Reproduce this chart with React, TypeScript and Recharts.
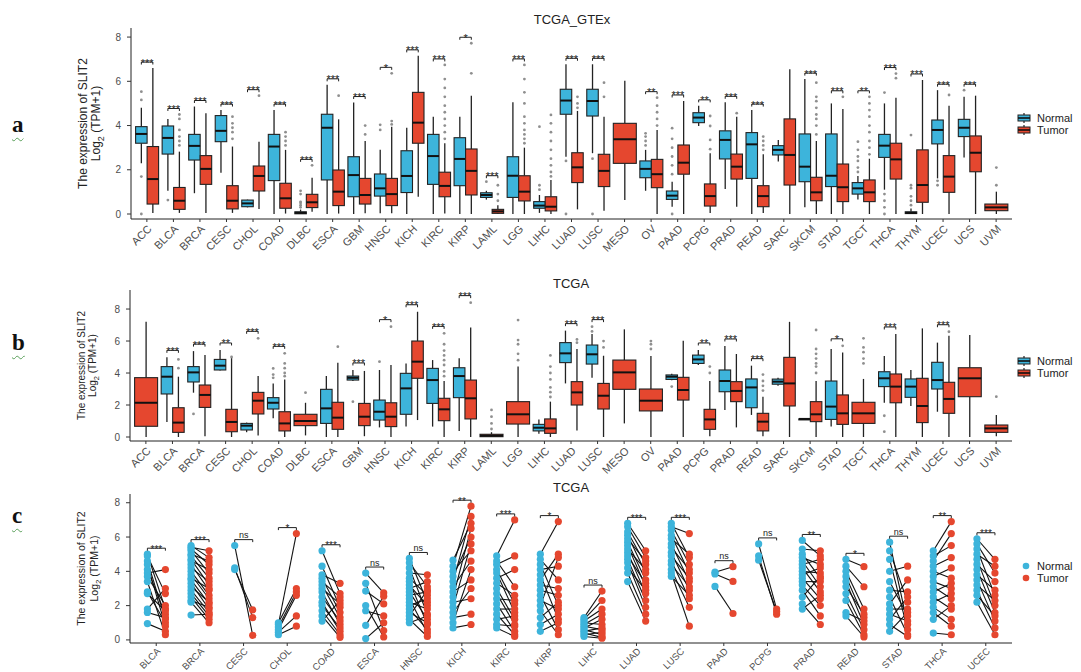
import React from 'react';
import { ComposedChart, Bar, XAxis, YAxis } from 'recharts';

const BLUE = '#3DB4DB';
const RED = '#E5472F';

// ---------- panel a : TCGA_GTEx ----------
const catsA = ['ACC', 'BLCA', 'BRCA', 'CESC', 'CHOL', 'COAD', 'DLBC', 'ESCA', 'GBM', 'HNSC', 'KICH', 'KIRC', 'KIRP', 'LAML', 'LGG', 'LIHC', 'LUAD', 'LUSC', 'MESO', 'OV', 'PAAD', 'PCPG', 'PRAD', 'READ', 'SARC', 'SKCM', 'STAD', 'TGCT', 'THCA', 'THYM', 'UCEC', 'UCS', 'UVM'];

// [min, q1, median, q3, max]
const normalA: (number[] | null)[] = [
  [2.3, 3.2, 3.62, 3.95, 4.8], [1.05, 2.71, 3.44, 3.98, 4.3], [0.94, 2.44, 3.08, 3.6, 4.86], [1.87, 3.27, 3.76, 4.45, 4.7],
  [0.3, 0.33, 0.48, 0.63, 0.65], [0, 1.51, 3.05, 3.6, 4.7], [0, 0.01, 0.05, 0.1, 0.2], [0, 1.54, 3.9, 4.51, 5.84],
  [0, 0.78, 1.76, 2.59, 5.04], [0.03, 0.81, 1.16, 1.81, 2.9], [0, 0.97, 1.72, 2.86, 3.9], [0, 1.34, 2.62, 3.6, 4.4],
  [0, 1.28, 2.49, 3.45, 4.4], [0.65, 0.75, 0.86, 0.96, 1.05], [0, 0.75, 1.73, 2.59, 5.05], [0.05, 0.26, 0.38, 0.56, 0.86],
  [2.59, 4.51, 5.13, 5.64, 6.77], [2.75, 4.43, 5.11, 5.64, 6.77], null, [1.05, 1.64, 2.04, 2.4, 2.9],
  [0.33, 0.66, 0.83, 1.04, 1.46], [3.98, 4.13, 4.36, 4.58, 4.89], [1.13, 2.49, 3.35, 3.76, 5.05], [0, 1.61, 3.15, 3.68, 4.7],
  [2.37, 2.67, 2.9, 3.09, 3.35], [0.3, 1.46, 2.14, 3.62, 6.1], [0, 1.24, 1.73, 3.62, 5.0], [0.66, 0.9, 1.16, 1.42, 1.72],
  [1.1, 2.56, 3.09, 3.6, 5.0], [0, 0.02, 0.05, 0.1, 0.25], [1.61, 3.17, 3.8, 4.25, 5.6], [2.55, 3.5, 3.9, 4.28, 5.3], null,
];
const tumorA: (number[] | null)[] = [
  [0.05, 0.45, 1.58, 3.05, 6.6], [0.05, 0.21, 0.6, 1.2, 2.82], [0.05, 1.34, 2.04, 2.64, 4.56], [0.05, 0.23, 0.6, 1.28, 3.05],
  [0.23, 1.04, 1.72, 2.17, 3.27], [0.02, 0.26, 0.71, 1.39, 2.9], [0.1, 0.29, 0.53, 0.89, 1.64], [0.02, 0.38, 1.01, 1.99, 4.28],
  [0.03, 0.45, 0.86, 1.61, 3.3], [0.03, 0.38, 0.9, 1.61, 3.95], [0.78, 3.2, 4.13, 5.5, 7.15], [0.02, 0.78, 1.27, 1.89, 3.2],
  [0, 0.86, 1.95, 2.94, 5.35], [0, 0.03, 0.12, 0.21, 0.4], [0, 0.59, 1.01, 1.73, 3.0], [0, 0.14, 0.33, 0.78, 1.54],
  [0.21, 1.42, 2.11, 2.77, 4.66], [0.15, 1.24, 1.95, 2.7, 4.4], [0.63, 2.29, 3.38, 4.1, 6.02], [0, 1.19, 1.8, 2.47, 3.8],
  [0, 1.8, 2.32, 3.12, 5.11], [0.05, 0.36, 0.81, 1.36, 2.75], [0.33, 1.58, 2.14, 2.71, 4.4], [0.05, 0.33, 0.81, 1.28, 2.7],
  [0, 1.31, 2.67, 4.3, 6.55], [0, 0.6, 0.98, 1.66, 3.3], [0, 0.56, 1.21, 2.26, 4.75], [0, 0.56, 0.98, 1.54, 2.5],
  [0, 1.58, 2.47, 3.2, 5.26], [0, 0.53, 1.31, 2.9, 6.06], [0, 0.98, 1.69, 2.64, 4.89], [0, 1.91, 2.77, 3.53, 5.35], [0, 0.15, 0.3, 0.45, 1.01],
];
const outNormalA: number[][] = [
  [5.53, 5.16, 1.69, 0], [0.63], [], [], [], [], [0.3, 0.4, 0.5, 0.55, 0.9, 1.05], [], [], [4.03, 3.8], [], [], [],
  [1.46], [], [1.1, 1.3, 3.95], [2.4, 0], [2.5, 0], [], [3.1, 3.3, 3.5, 3.65], [1.8, 2.2, 2.6, 3.0, 3.4, 3.88, 0], [], [], [],
  [], [], [], [1.9, 2.1, 2.4, 2.6, 2.9, 3.27], [0.9, 0.6, 0.3, 0, 5.49], [0.4, 0.6, 0.8, 1.17, 1.3, 3.57], [1.5, 1.3], [5.6], [],
];
const outTumorA: number[][] = [
  [], [3.1, 3.3, 3.5, 3.8, 4.3, 4.5], [], [3.4, 3.7, 3.9, 4.1, 4.4], [5.35], [3.1, 3.3, 3.5, 3.7], [2.2], [5.35], [3.6, 4.0],
  [4.05, 4.2, 6.36], [], [3.4, 3.7, 4.0, 4.3, 4.6, 4.9, 5.3, 5.7, 6.1, 6.74], [6.36, 7.72], [0.6, 0.9, 1.3],
  [3.2, 3.4, 3.6, 3.8, 4.1, 4.4, 5.0, 5.5, 6.1, 6.74], [1.7, 1.9, 2.2, 2.5, 2.9, 3.3, 3.7, 4.1, 4.48], [4.8, 5.0, 5.3], [5.3, 5.94],
  [], [4.0, 4.3, 4.6, 4.9, 5.26], [], [2.93, 3.35, 3.98, 4.43], [4.56], [2.9, 3.1, 3.3, 3.5], [],
  [3.6, 4.0, 4.3, 4.5, 4.8, 5.1, 5.3, 5.94], [5.3], [2.7, 3.0, 3.3, 3.7, 4.0, 4.4, 4.7, 5.0, 5.3], [6.14, 6.35], [], [5.38], [], [1.3, 2.1],
];
const sigA = ['***', '***', '***', '***', '***', '***', '***', '***', '***', '*', '***', '***', '*', '***', '***', '', '***', '***', '', '**', '***', '**', '***', '***', '', '***', '***', '**', '***', '***', '***', '***', ''];

// ---------- panel b : TCGA ----------
const catsB = catsA;
const normalB: (number[] | null)[] = [
  null, [0.94, 2.69, 3.77, 4.4, 4.98], [2.77, 3.44, 4.04, 4.4, 5.37], [4.15, 4.19, 4.46, 4.85, 5.44],
  [0.3, 0.44, 0.71, 0.85, 0.9], [1.17, 1.75, 2.14, 2.46, 3.35], null, [0, 0.85, 1.79, 2.98, 3.81],
  [3.5, 3.56, 3.7, 3.81, 4.19], [0.6, 1.06, 1.58, 2.31, 4.19], [0.65, 1.42, 3.04, 3.98, 4.6], [0.65, 2.1, 3.56, 4.29, 4.81],
  [0.38, 2.46, 3.81, 4.33, 4.92], null, null, [0.2, 0.38, 0.58, 0.79, 1.1],
  [3.35, 4.65, 5.23, 5.9, 6.65], [3.71, 4.56, 5.17, 5.75, 6.44], null, null,
  [3.55, 3.6, 3.77, 3.88, 3.95], [4.5, 4.6, 4.85, 5.12, 5.44], [1.69, 2.83, 3.5, 4.19, 5.69], [1.38, 1.83, 3.1, 3.63, 4.46],
  [3.2, 3.3, 3.46, 3.62, 3.7], [1.13, 1.13, 1.13, 1.13, 1.13], [0.65, 1.1, 1.9, 3.5, 5.5], null,
  [2.14, 3.15, 3.67, 4.08, 5.06], [1.94, 2.48, 3.15, 3.63, 4.19], [1.58, 3.0, 3.56, 4.67, 5.9], null, null,
];
const tumorB: (number[] | null)[] = [
  [0, 0.67, 2.14, 3.71, 7.2], [0, 0.29, 0.9, 1.83, 3.77], [0.05, 1.85, 2.63, 3.25, 5.12], [0, 0.33, 0.94, 1.73, 4.98],
  [0.1, 1.44, 2.27, 2.79, 3.81], [0, 0.38, 0.85, 1.58, 3.6], [0.1, 0.71, 1.0, 1.42, 2.14], [0, 0.48, 1.21, 2.17, 4.64],
  [0.05, 0.71, 1.27, 2.1, 4.13], [0, 0.65, 1.27, 2.14, 4.5], [1.06, 3.67, 4.71, 6.0, 7.83], [0, 1.02, 1.73, 2.42, 3.5],
  [0, 1.13, 2.42, 3.56, 6.85], [0, 0.02, 0.08, 0.17, 0.3], [0, 0.81, 1.42, 2.21, 4.4], [0, 0.23, 0.54, 1.13, 2.21],
  [0.4, 2.0, 2.79, 3.46, 5.5], [0, 1.75, 2.58, 3.35, 5.08], [0.85, 2.98, 4.04, 4.81, 6.73], [0, 1.63, 2.27, 3.0, 5.06],
  [0, 2.31, 2.94, 3.73, 6.02], [0.05, 0.48, 1.1, 1.73, 3.5], [0.6, 2.21, 2.88, 3.46, 5.19], [0.05, 0.38, 0.96, 1.48, 2.52],
  [0, 1.94, 3.35, 4.98, 7.2], [0, 0.96, 1.42, 2.21, 3.5], [0, 0.79, 1.48, 2.63, 5.29], [0, 0.85, 1.48, 2.17, 3.63],
  [0, 2.14, 3.15, 3.94, 6.44], [0, 0.9, 1.94, 3.67, 6.79], [0, 1.48, 2.38, 3.42, 6.33], [0, 2.52, 3.67, 4.33, 6.38], [0.05, 0.29, 0.54, 0.75, 1.38],
];
const outNormalB: number[][] = [
  [], [], [1.44], [], [], [3.7, 3.9, 4.29], [], [], [2.21], [4.71], [], [], [], [], [], [], [], [6.6, 6.9], [], [],
  [3.15], [], [], [], [], [], [], [], [1.33, 0.33], [], [], [], [],
];
const outTumorB: number[][] = [
  [], [4.3, 4.85], [], [5.0], [6.17], [3.8, 4.0, 4.3, 4.6, 5.23], [2.77], [5.65], [], [6.9], [],
  [3.8, 4.1, 4.5, 4.8, 5.1, 5.4, 5.8, 6.48], [8.4], [0.5, 0.85, 1.27, 1.69], [4.8, 5.2, 5.8, 6.06, 7.31],
  [2.5, 2.8, 3.1, 3.6, 4.0, 4.4, 5.1], [5.9, 6.1], [5.6, 6.0], [], [5.5, 5.8, 6.0], [], [4.0, 4.4], [], [2.9, 3.2, 3.5, 3.9], [],
  [4.0, 4.4, 4.6, 4.9, 5.2, 5.5, 6.69], [5.7], [4.6, 4.9, 5.3, 5.6, 6.17], [], [], [6.58], [], [2.52],
];
const sigB = ['', '***', '***', '**', '***', '***', '', '', '***', '*', '***', '***', '***', '', '', '', '***', '***', '', '', '', '**', '***', '***', '', '', '*', '', '***', '', '***', '', ''];

// ---------- panel c : paired TCGA ----------
const catsC = ['BLCA', 'BRCA', 'CESC', 'CHOL', 'COAD', 'ESCA', 'HNSC', 'KICH', 'KIRC', 'KIRP', 'LIHC', 'LUAD', 'LUSC', 'PAAD', 'PCPG', 'PRAD', 'READ', 'STAD', 'THCA', 'UCEC'];
const pairNormalC: number[][] = [
  [5.0, 4.9, 4.6, 4.4, 4.1, 3.9, 3.7, 3.4, 2.8, 2.7, 1.8, 1.6, 0.95],
  [5.5, 5.4, 5.3, 5.2, 5.0, 4.9, 4.7, 4.6, 4.4, 4.2, 4.0, 3.8, 3.6, 3.5, 3.3, 3.1, 2.9, 2.7, 2.5, 2.3, 2.2, 1.45],
  [5.5, 4.2, 4.1],
  [0.9, 1.0, 0.75, 0.6, 0.45, 0.3],
  [5.2, 4.3, 3.8, 3.6, 3.4, 3.2, 3.0, 2.8, 2.5, 2.2, 2.0, 1.7, 1.4, 1.1],
  [3.9, 3.3, 2.85, 2.0, 1.7, 0.85, 0.08],
  [4.75, 4.5, 4.2, 3.9, 3.6, 3.4, 3.2, 3.0, 2.8, 2.6, 2.4, 2.2, 2.0, 1.8, 1.6, 1.4, 1.2, 1.0],
  [4.65, 4.3, 4.0, 3.7, 3.4, 3.1, 2.8, 2.5, 2.2, 1.9, 1.6, 1.3, 1.0, 0.7],
  [4.9, 4.6, 4.4, 4.1, 3.9, 3.6, 3.3, 3.0, 2.7, 2.4, 2.1, 1.8, 1.5, 1.2, 0.9, 0.7],
  [5.0, 4.7, 4.4, 4.1, 3.8, 3.5, 3.2, 2.9, 2.6, 2.3, 2.0, 1.7, 1.3, 0.9, 0.5],
  [1.3, 1.2, 1.1, 1.0, 0.9, 0.8, 0.7, 0.6, 0.5, 0.4, 0.3, 0.2],
  [6.8, 6.6, 6.3, 6.1, 5.9, 5.7, 5.5, 5.3, 5.1, 4.9, 4.7, 4.5, 4.2, 3.9, 3.4],
  [6.8, 6.6, 6.4, 6.1, 5.9, 5.6, 5.4, 5.1, 4.9, 4.6, 4.4, 4.1, 3.9, 3.7],
  [3.95, 3.85, 3.12],
  [5.6, 4.9, 4.65],
  [5.8, 5.3, 5.0, 4.8, 4.6, 4.4, 4.2, 4.0, 3.8, 3.6, 3.4, 3.2, 2.9, 2.5, 2.1, 1.8],
  [4.7, 4.3, 4.0, 3.7, 3.4, 3.1, 2.7, 2.3, 1.6, 1.4],
  [5.7, 5.2, 4.7, 4.0, 3.4, 2.9, 2.5, 2.1, 1.8, 1.5, 1.2, 0.9, 0.5],
  [5.2, 4.9, 4.6, 4.3, 4.0, 3.7, 3.4, 3.1, 2.8, 2.5, 2.2, 1.9, 1.6, 1.2, 0.4],
  [5.9, 5.6, 5.3, 5.0, 4.7, 4.4, 4.1, 3.8, 3.5, 3.2, 2.9, 2.6, 2.2],
];
const pairTumorC: number[][] = [
  [1.8, 2.7, 1.2, 0.8, 1.5, 4.1, 2.0, 0.3, 1.0, 1.7, 3.0, 1.3, 0.5],
  [4.8, 5.2, 4.4, 3.9, 4.6, 3.6, 3.2, 4.1, 2.9, 3.4, 2.6, 2.4, 3.0, 2.1, 1.8, 2.2, 1.6, 1.4, 1.2, 1.9, 1.0, 1.5],
  [0.27, 1.3, 1.75],
  [6.2, 3.0, 2.8, 2.6, 1.4, 0.8],
  [2.7, 1.9, 3.3, 1.6, 2.5, 1.3, 2.1, 0.9, 1.1, 0.5, 0.7, 0.3, 0.15, 2.3],
  [2.75, 0.55, 2.1, 0.17, 1.4, 2.55, 1.0],
  [2.2, 3.1, 1.5, 3.8, 2.6, 0.9, 2.0, 3.4, 1.2, 2.8, 0.4, 1.8, 2.4, 0.6, 1.0, 2.9, 0.2, 1.4],
  [6.8, 7.8, 5.2, 6.0, 7.2, 4.6, 3.5, 6.5, 2.4, 5.6, 3.0, 1.5, 4.1, 0.9],
  [7.0, 3.1, 4.9, 2.1, 1.6, 4.1, 2.6, 1.2, 0.9, 2.3, 0.5, 1.8, 0.3, 1.4, 0.8, 0.2],
  [6.9, 3.5, 2.0, 4.3, 1.2, 5.0, 3.0, 2.6, 0.6, 1.8, 4.8, 0.3, 2.2, 1.5, 1.0],
  [2.85, 2.3, 1.8, 0.9, 1.5, 0.6, 1.2, 0.3, 0.7, 0.15, 0.45, 0.1],
  [5.2, 4.8, 4.4, 3.9, 4.6, 3.5, 3.1, 4.1, 2.7, 3.3, 2.3, 1.9, 2.9, 1.5, 1.1],
  [4.8, 6.2, 4.4, 3.9, 5.0, 3.4, 4.1, 2.9, 3.6, 2.4, 3.1, 1.9, 0.8, 2.6],
  [4.27, 3.41, 1.54],
  [1.8, 1.5, 1.65],
  [4.9, 5.2, 3.6, 4.4, 3.1, 4.7, 2.8, 3.9, 4.2, 2.4, 3.4, 2.0, 1.4, 3.7, 0.9, 2.6],
  [4.27, 3.1, 1.8, 1.3, 0.9, 1.5, 0.6, 0.3, 1.1, 0.17],
  [0.9, 2.2, 0.6, 4.3, 1.4, 2.8, 0.3, 3.5, 1.8, 1.1, 2.5, 0.2, 1.6],
  [6.9, 5.5, 6.2, 4.8, 3.6, 4.2, 3.0, 2.4, 3.3, 1.8, 2.7, 1.2, 0.8, 2.0, 0.3],
  [4.7, 3.9, 2.6, 4.3, 2.0, 3.4, 1.6, 2.9, 1.1, 2.3, 0.7, 1.4, 0.3],
];
const sigC = ['***', '***', 'ns', '*', '***', 'ns', 'ns', '**', '***', '*', 'ns', '***', '***', 'ns', 'ns', '**', '*', 'ns', '**', '***'];

const yTicks = [0, 2, 4, 6, 8];

function boxRows(cats: string[], normal: (number[] | null)[], tumor: (number[] | null)[], outN: number[][], outT: number[][], sig: string[]) {
  return cats.map((name, i) => {
    const vals = [...(normal[i] ?? []), ...(tumor[i] ?? []), ...outN[i], ...outT[i]];
    return { name, normal: normal[i], tumor: tumor[i], outN: outN[i], outT: outT[i], sig: sig[i], span: [Math.min(...vals), Math.max(...vals)] };
  });
}

const rowsA = boxRows(catsA, normalA, tumorA, outNormalA, outTumorA, sigA);
const rowsB = boxRows(catsB, normalB, tumorB, outNormalB, outTumorB, sigB);
const rowsC = catsC.map((name, i) => {
  const vals = [...pairNormalC[i], ...pairTumorC[i]];
  return { name, n: pairNormalC[i], t: pairTumorC[i], sig: sigC[i], span: [Math.min(...vals), Math.max(...vals)] };
});

function Bracket({ xl, xr, top, sig, fs }: any) {
  const isStar = sig.indexOf('*') >= 0;
  return (
    <g>
      <path d={`M${xl},${top + 2.5}V${top}H${xr}V${top + 2.5}`} stroke="#222" strokeWidth={1} fill="none" />
      <text x={(xl + xr) / 2} y={isStar ? top + 4.5 : top - 1.5} textAnchor="middle" fontSize={isStar ? fs : fs - 1} fill="#222">{sig}</text>
    </g>
  );
}

function BoxShape(props: any) {
  const { x, y, width, height, gap, sigSize } = props;
  const d = props.payload ?? props;
  const [lo, hi] = d.span;
  const py = (v: number) => y + ((hi - v) / (hi - lo)) * height;
  const cx = x + width / 2;
  const half = width / 2;
  const one = (s: number[], x0: number, w: number, fill: string, outs: number[]) => (
    <g>
      <line x1={x0 + w / 2} x2={x0 + w / 2} y1={py(s[4])} y2={py(s[3])} stroke="#222" strokeWidth={1.3} />
      <line x1={x0 + w / 2} x2={x0 + w / 2} y1={py(s[1])} y2={py(s[0])} stroke="#222" strokeWidth={1.3} />
      <rect x={x0} y={py(s[3])} width={w} height={Math.max(py(s[1]) - py(s[3]), 1)} fill={fill} stroke="#222" strokeWidth={1.1} />
      <line x1={x0} x2={x0 + w} y1={py(s[2])} y2={py(s[2])} stroke="#111" strokeWidth={2} />
      {outs.map((o, j) => <circle key={j} cx={x0 + w / 2} cy={py(o)} r={1.4} fill="#8f8f8f" />)}
    </g>
  );
  const both = d.normal && d.tumor;
  return (
    <g>
      {both && one(d.normal, cx - half, half, BLUE, d.outN)}
      {both && one(d.tumor, cx, half, RED, d.outT)}
      {!both && d.tumor && one(d.tumor, x, width, RED, d.outT)}
      {!both && d.normal && one(d.normal, x, width, BLUE, d.outN)}
      {d.sig && <Bracket xl={cx - half / 2} xr={cx + half / 2} top={py(hi) - gap} sig={d.sig} fs={sigSize} />}
    </g>
  );
}

function PairShape(props: any) {
  const { x, y, width, height } = props;
  const d = props.payload ?? props;
  const [lo, hi] = d.span;
  const py = (v: number) => y + ((hi - v) / (hi - lo)) * height;
  const xn = x;
  const xt = x + width;
  return (
    <g>
      {d.n.map((v: number, i: number) => (
        <line key={'l' + i} x1={xn} y1={py(v)} x2={xt} y2={py(d.t[i])} stroke="#111" strokeWidth={1.1} />
      ))}
      {d.n.map((v: number, i: number) => <circle key={'n' + i} cx={xn} cy={py(v)} r={3.6} fill={BLUE} />)}
      {d.t.map((v: number, i: number) => <circle key={'t' + i} cx={xt} cy={py(v)} r={3.6} fill={RED} />)}
      <Bracket xl={xn} xr={xt} top={py(hi) - 6} sig={d.sig} fs={10} />
    </g>
  );
}

function RotTick(props: any) {
  const { x, y, payload, fs } = props;
  return (
    <text x={x} y={y} dy={fs * 0.72} textAnchor="end" fontSize={fs} fill="#4d4d4d" transform={`rotate(-45 ${x} ${y})`}>
      {payload.value}
    </text>
  );
}

function YTitle(props: any) {
  const { viewBox, fs, x1, x2 } = props;
  const cy = viewBox.y + viewBox.height / 2;
  return (
    <g>
      <text x={x1} y={cy} textAnchor="middle" fontSize={fs} fill="#222" transform={`rotate(-90 ${x1} ${cy})`} dy="0.35em">
        The expression of SLIT2
      </text>
      <text x={x2} y={cy} textAnchor="middle" fontSize={fs} fill="#222" transform={`rotate(-90 ${x2} ${cy})`} dy="0.35em">
        Log<tspan fontSize={fs * 0.75} dy={fs * 0.3}>2</tspan>
        <tspan dy={-fs * 0.3}> (TPM+1)</tspan>
      </text>
    </g>
  );
}

function BoxPanel({ data, domain, yWidth, xHeight, height, ylab, gap }: any) {
  return (
    <ComposedChart width={1081} height={height} data={data} margin={{ top: 28, right: 69, bottom: 0, left: 0 }} barGap={0}>
      <XAxis dataKey="name" interval={0} height={xHeight} tickSize={3} tickMargin={2} padding={{ left: 2.6, right: 2.6 }}
        axisLine={{ stroke: '#222' }} tickLine={{ stroke: '#333' }} tick={<RotTick fs={11} />} />
      <YAxis type="number" domain={domain} ticks={yTicks} allowDataOverflow width={yWidth} tickSize={4} tickMargin={6}
        axisLine={{ stroke: '#222' }} tickLine={{ stroke: '#333' }} tick={{ fontSize: 10, fill: '#4d4d4d' }}
        label={<YTitle {...ylab} />} />
      <Bar dataKey="span" barSize={23} isAnimationActive={false} shape={(p: any) => <BoxShape {...p} gap={gap} sigSize={11} />} />
    </ComposedChart>
  );
}

function BoxKey({ x, y, fill }: any) {
  return (
    <g>
      <line x1={x} x2={x} y1={y - 5} y2={y + 5} stroke="#222" strokeWidth={1.2} />
      <rect x={x - 6} y={y - 3} width={12} height={6} fill={fill} stroke="#222" strokeWidth={1} />
      <line x1={x - 6} x2={x + 6} y1={y} y2={y} stroke="#111" strokeWidth={1.6} />
    </g>
  );
}

const panelLabel = (top: number): React.CSSProperties => ({
  position: 'absolute', left: 12, top, fontFamily: '"Liberation Serif", serif', fontSize: 23, fontWeight: 'bold',
  color: '#111', textDecoration: 'underline wavy #5aa05a', textUnderlineOffset: 5, textDecorationThickness: 1,
});

export default function App() {
  return (
    <div style={{ position: 'absolute', left: 0, top: 0, width: 1081, height: 672, overflow: 'hidden', background: '#fff', fontFamily: '"Liberation Sans", Arial, sans-serif' }}>
      <div style={{ position: 'absolute', left: 0, top: 0 }}>
        <BoxPanel data={rowsA} domain={[-0.226, 8.41]} yWidth={131} xHeight={41} height={260} gap={6}
          ylab={{ fs: 12, x1: 83, x2: 96 }} />
      </div>
      <div style={{ position: 'absolute', left: 0, top: 262 }}>
        <BoxPanel data={rowsB} domain={[-0.25, 9.19]} yWidth={130} xHeight={36} height={215} gap={7}
          ylab={{ fs: 10, x1: 81, x2: 92 }} />
      </div>
      <div style={{ position: 'absolute', left: 0, top: 466 }}>
        <ComposedChart width={1081} height={206} data={rowsC} margin={{ top: 28, right: 69, bottom: 0, left: 0 }}>
          <XAxis dataKey="name" interval={0} height={29} tickSize={3} tickMargin={1} padding={{ left: 4.4, right: 4.4 }}
            axisLine={{ stroke: '#222' }} tickLine={{ stroke: '#333' }} tick={<RotTick fs={9.5} />} />
          <YAxis type="number" domain={[-0.18, 8.51]} ticks={yTicks} allowDataOverflow width={130} tickSize={4} tickMargin={6}
            axisLine={{ stroke: '#222' }} tickLine={{ stroke: '#333' }} tick={{ fontSize: 10, fill: '#4d4d4d' }}
            label={<YTitle fs={10.5} x1={81} x2={94} />} />
          <Bar dataKey="span" barSize={18} isAnimationActive={false} shape={(p: any) => <PairShape {...p} />} />
        </ComposedChart>
      </div>

      <svg width={1081} height={672} style={{ position: 'absolute', left: 0, top: 0, pointerEvents: 'none' }}>
        <text x={572} y={23.5} textAnchor="middle" fontSize={13} fill="#222">TCGA_GTEx</text>
        <text x={571} y={287.5} textAnchor="middle" fontSize={13} fill="#222">TCGA</text>
        <text x={571} y={491.5} textAnchor="middle" fontSize={13} fill="#222">TCGA</text>

        <BoxKey x={1024} y={118} fill={BLUE} />
        <BoxKey x={1024} y={130} fill={RED} />
        <text x={1037} y={122} fontSize={11} fill="#222">Normal</text>
        <text x={1037} y={134} fontSize={11} fill="#222">Tumor</text>

        <BoxKey x={1024} y={361} fill={BLUE} />
        <BoxKey x={1024} y={373} fill={RED} />
        <text x={1037} y={365} fontSize={11} fill="#222">Normal</text>
        <text x={1037} y={377} fontSize={11} fill="#222">Tumor</text>

        <circle cx={1026} cy={566} r={3.3} fill={BLUE} />
        <circle cx={1026} cy={578} r={3.3} fill={RED} />
        <text x={1037} y={570} fontSize={11} fill="#222">Normal</text>
        <text x={1037} y={582} fontSize={11} fill="#222">Tumor</text>
      </svg>

      <div style={panelLabel(112)}>a</div>
      <div style={panelLabel(330)}>b</div>
      <div style={panelLabel(503)}>c</div>
    </div>
  );
}
